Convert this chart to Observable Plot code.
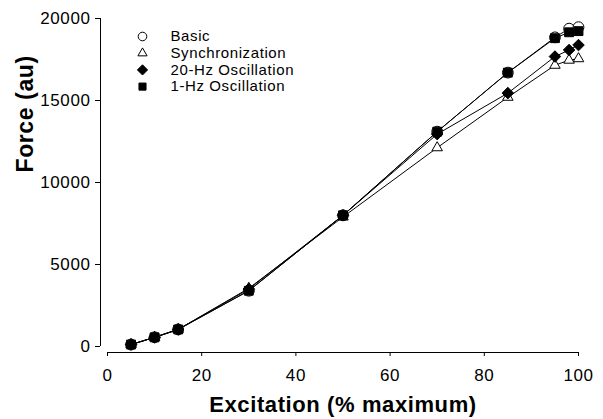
<!DOCTYPE html>
<html>
<head>
<meta charset="utf-8">
<script src="https://cdn.jsdelivr.net/npm/d3@7"></script>
<script src="https://cdn.jsdelivr.net/npm/@observablehq/plot@0.6"></script>
<style>
  html, body { margin: 0; padding: 0; background: white; }
  #chart svg { display: block; }
</style>
</head>
<body>
<div id="chart"></div>
<script>
const excitation = [5, 10, 15, 30, 50, 70, 85, 95, 98, 100];
const basic      = [120, 560, 1040, 3400, 8000, 13100, 16700, 18850, 19380, 19470];
const sync       = [120, 560, 1040, 3550, 7900, 12120, 15200, 17150, 17460, 17550];
const hz20       = [120, 560, 1040, 3500, 8000, 12950, 15450, 17680, 18080, 18380];
const hz1        = [120, 560, 1040, 3400, 8000, 13100, 16700, 18800, 19160, 19230];
const seriesNames = ["Basic", "Synchronization", "20-Hz Oscillation", "1-Hz Oscillation"];
const seriesValues = [basic, sync, hz20, hz1];
const xTicks = [0, 20, 40, 60, 80, 100];
const yTicks = [0, 5000, 10000, 15000, 20000];

const symbolOf = {"Basic": "circle", "Synchronization": "triangle", "20-Hz Oscillation": "diamond2", "1-Hz Oscillation": "square"};
const fillOf = {"Basic": "white", "Synchronization": "white", "20-Hz Oscillation": "black", "1-Hz Oscillation": "black"};
const rOf = {"Basic": 5.4, "Synchronization": 3.9, "20-Hz Oscillation": 5.2, "1-Hz Oscillation": 5.0};
const legendR = {"Basic": 4.3, "Synchronization": 3.4, "20-Hz Oscillation": 4.6, "1-Hz Oscillation": 4};

const data = [];
seriesNames.forEach((s, i) => {
  excitation.forEach((x, j) => data.push({series: s, x, y: seriesValues[i][j]}));
});

const dotMarks = seriesNames.map(s => Plot.dot(data.filter(d => d.series === s), {
  x: "x", y: "y", symbol: () => symbolOf[s], r: rOf[s],
  fill: fillOf[s], stroke: "black", strokeWidth: 1
}));

const legendMarks = [];
seriesNames.forEach((s, i) => {
  legendMarks.push(Plot.dot([s], {
    frameAnchor: "top-left", dx: 35, dy: 18 + i * 16.7,
    symbol: () => symbolOf[s], r: legendR[s], fill: fillOf[s], stroke: "black", strokeWidth: 1
  }));
  legendMarks.push(Plot.text([s], {
    frameAnchor: "top-left", dx: 63, dy: 18 + i * 16.7, text: d => d,
    textAnchor: "start", lineAnchor: "middle", fontSize: 15, fill: "black"
  }));
});

const chart = Plot.plot({
  width: 603,
  height: 419,
  marginLeft: 107,
  marginRight: 25,
  marginTop: 18,
  marginBottom: 73,
  style: {fontFamily: "Arial, 'Liberation Sans', sans-serif", fontSize: "17px", color: "black", background: "white", letterSpacing: "0.6px"},
  x: {domain: [0, 100]},
  y: {domain: [0, 20000]},
  marks: [
    Plot.axisY({ticks: yTicks, tickSize: 5, tickPadding: 5, dx: -7, label: null, tickFormat: d => String(d), stroke: "black"}),
    Plot.ruleX([0], {y1: 0, y2: 20000, dx: -7, stroke: "black", strokeWidth: 1}),
    Plot.axisX({ticks: xTicks, tickSize: 4, tickPadding: 12, dy: 6, label: null, tickFormat: d => String(d), stroke: "black"}),
    Plot.ruleY([0], {x1: 0, x2: 100, dy: 6, stroke: "black", strokeWidth: 1}),
    Plot.line(data, {x: "x", y: "y", z: "series", stroke: "black", strokeWidth: 1}),
    ...dotMarks,
    ...legendMarks,
    Plot.text(["Excitation (% maximum)"], {frameAnchor: "bottom", dy: 58, text: d => d, lineAnchor: "middle", fontSize: 22, fontWeight: "bold", fill: "black"}),
    Plot.text(["Force (au)"], {frameAnchor: "left", dx: -82, dy: -10, rotate: -90, text: d => d, lineAnchor: "middle", fontSize: 23, fontWeight: "bold", fill: "black"})
  ]
});
document.getElementById("chart").appendChild(chart);
</script>
</body>
</html>
